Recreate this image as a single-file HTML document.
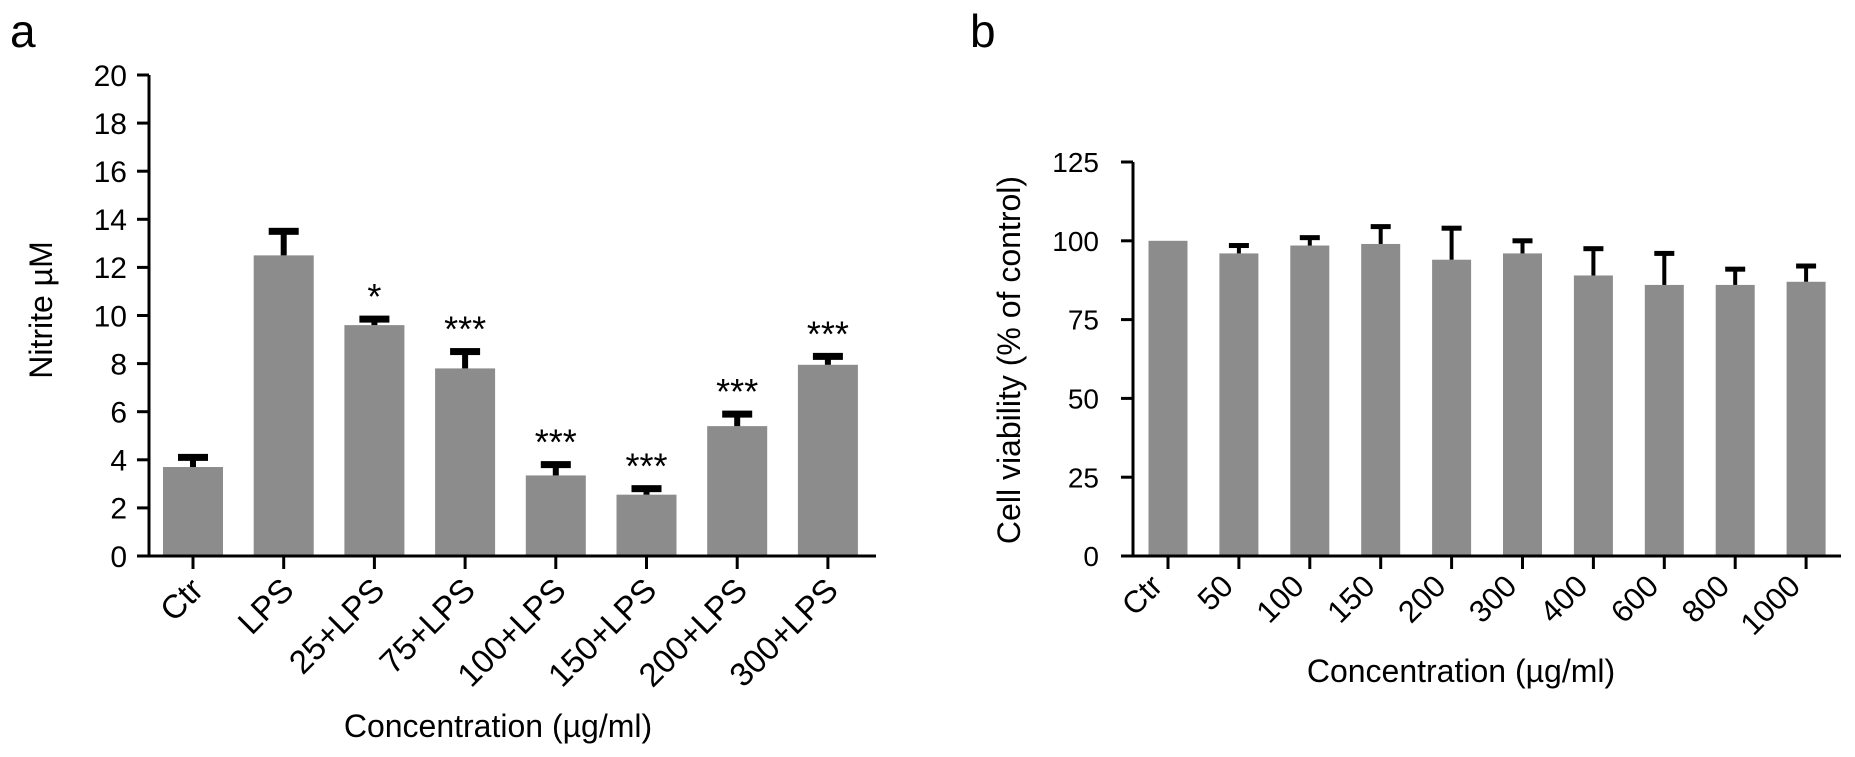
<!DOCTYPE html>
<html><head><meta charset="utf-8"><style>
html,body{margin:0;padding:0;background:#fff;}
svg{display:block;font-family:"Liberation Sans",Arial,sans-serif;}
</style></head><body>
<svg id="fig" width="1855" height="757" viewBox="0 0 1855 757" xmlns="http://www.w3.org/2000/svg">
<text x="10" y="47" font-size="46">a</text>
<text x="970" y="47" font-size="46">b</text>
<g id="chartA"></g>
<g id="chartB"></g>
</svg>
<script>
const catsA = ["Ctr","LPS","25+LPS","75+LPS","100+LPS","150+LPS","200+LPS","300+LPS"];
const valsA = [3.7,12.5,9.6,7.8,3.35,2.55,5.4,7.95];
const errsA = [0.4,1.0,0.25,0.7,0.45,0.25,0.5,0.35];
const sigA = ["","","*","***","***","***","***","***"];
const ticksA = [0,2,4,6,8,10,12,14,16,18,20];

const catsB = ["Ctr","50","100","150","200","300","400","600","800","1000"];
const valsB = [100,96,98.5,99,94,96,89,86,86,87];
const errsB = [0,2.5,2.5,5.5,10,4,8.5,10,5,5];
const ticksB = [0,25,50,75,100,125];

const NS="http://www.w3.org/2000/svg";
function mk(tag, attrs, parent){const e=document.createElementNS(NS,tag);for(const k in attrs)e.setAttribute(k,attrs[k]);parent.appendChild(e);return e;}

function draw(g, cfg){
  const {cats,vals,errs,sig,ticks,ymax,x0,x1,y0,y1,first,pitch,bw,capW,capH,stemW,labDx,labDy,tickGap,tickFont,labFont,title,titleX,titleY,ytitle,ytX,ytY} = cfg;
  const ys = v => y0 - (v/ymax)*(y0-y1);
  const xs = i => first + i*pitch;
  cats.forEach((c,i)=>{
    const top = ys(vals[i]);
    const b = mk('rect',{x:xs(i)-bw/2,y:top,width:bw,height:y0-top,fill:'#8c8c8c'},g);
    
    
    if(errs[i]>0){
      const et = ys(vals[i]+errs[i]);
      const s = mk('rect',{x:xs(i)-stemW/2,y:et,width:stemW,height:top-et,fill:'#000'},g);
      
      
      mk('rect',{x:xs(i)-capW/2,y:et-capH/2,width:capW,height:capH,fill:'#000'},g);
    }
    if(sig && sig[i]){
      const t = mk('text',{x:xs(i),y:ys(vals[i]+errs[i])-10,'font-size':36,'text-anchor':'middle'},g);
      t.textContent=sig[i];
      
      
    }
    mk('line',{x1:xs(i),x2:xs(i),y1:y0,y2:y0+13,stroke:'#000','stroke-width':3},g);
    const lx=xs(i)+labDx, ly=y0+labDy;
    const l = mk('text',{x:lx,y:ly,'font-size':labFont,'text-anchor':'end',transform:`rotate(-45 ${lx} ${ly})`},g);
    l.textContent=c;
    
    
  });
  const ya = mk('line',{x1:x0,x2:x0,y1:y1,y2:y0+1.5,stroke:'#000','stroke-width':3},g);
  
  
  const xa = mk('line',{x1:x0-1.5,x2:x1,y1:y0,y2:y0,stroke:'#000','stroke-width':3},g);
  
  
  ticks.forEach(t=>{
    mk('line',{x1:x0-12,x2:x0,y1:ys(t),y2:ys(t),stroke:'#000','stroke-width':3},g);
    const tl = mk('text',{x:x0-tickGap,y:ys(t)+tickFont*0.36,'font-size':tickFont,'text-anchor':'end'},g);
    tl.textContent=t;
    
    
  });
  const tt = mk('text',{x:titleX,y:titleY,'font-size':32,'text-anchor':'middle'},g);
  tt.textContent=title;
  
  
  const yt = mk('text',{x:ytX,y:ytY,'font-size':32,'text-anchor':'middle',transform:`rotate(-90 ${ytX} ${ytY})`},g);
  yt.textContent=ytitle;
  
  
}

draw(document.getElementById('chartA'),{cats:catsA,vals:valsA,errs:errsA,sig:sigA,ticks:ticksA,ymax:20,
  x0:149,x1:876,y0:556,y1:75,first:193,pitch:90.7,bw:60,capW:30,capH:7,stemW:6,labDx:12,labDy:36,tickGap:22,tickFont:30,labFont:33,
  title:"Concentration (\u00b5g/ml)",titleX:498,titleY:737,ytitle:"Nitrite \u00b5M",ytX:52,ytY:310});
draw(document.getElementById('chartB'),{cats:catsB,vals:valsB,errs:errsB,sig:null,ticks:ticksB,ymax:125,
  x0:1133,x1:1841,y0:556,y1:162,first:1168,pitch:70.9,bw:39,capW:20,capH:5,stemW:4,labDx:-4,labDy:32,tickGap:34,tickFont:28,labFont:31,
  title:"Concentration (\u00b5g/ml)",titleX:1461,titleY:682,ytitle:"Cell viability (% of control)",ytX:1020,ytY:360});
</script>
</body></html>
